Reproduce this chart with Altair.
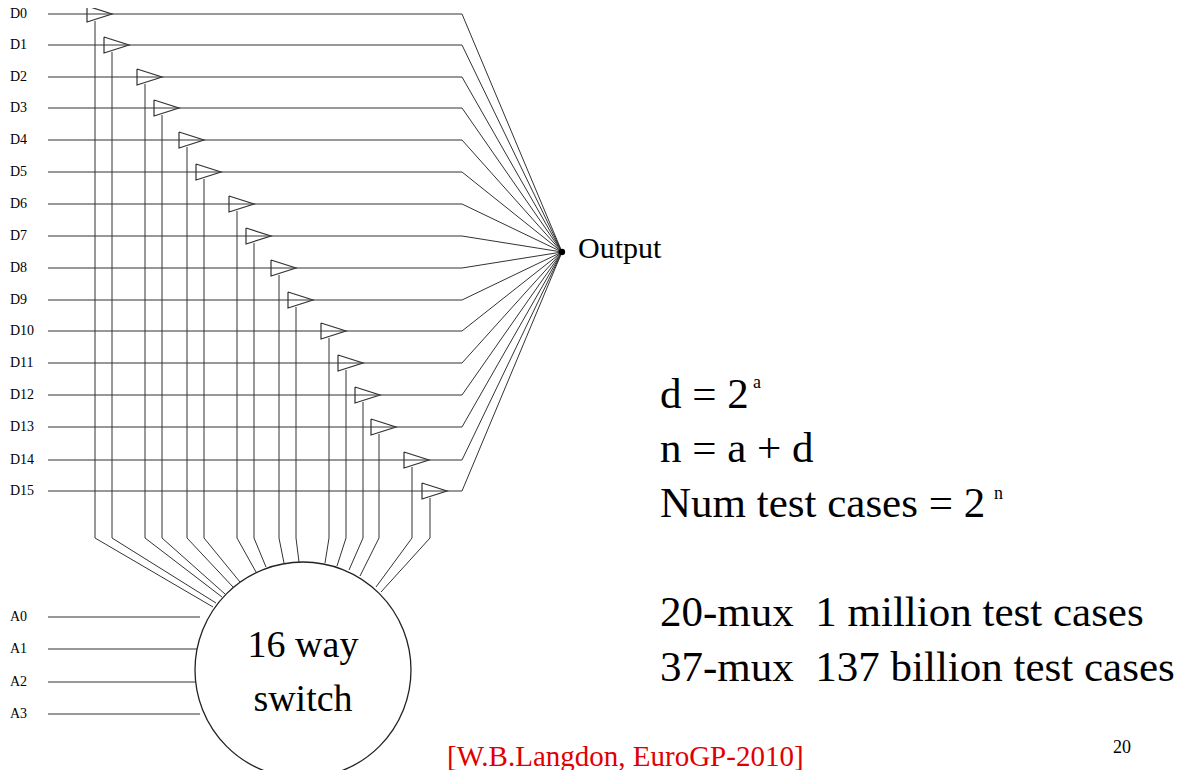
import altair as alt
import pandas as pd

# diagram layout, in picture pixels
d_labels = ["D%d" % i for i in range(16)]
d_y = [14, 45, 77, 108, 140, 172, 204, 236, 268, 300, 331, 363, 395, 427, 460, 491]
v_x = [95, 112, 145, 162, 187, 204, 237, 254, 279, 296, 329, 346, 363, 379, 412, 430]
circ_x = [213, 216, 222, 225, 233, 240, 256, 266, 284, 299, 325, 337, 349, 360, 376, 381]
circ_y = [607, 603, 597, 594, 587, 582, 572, 567, 563, 562, 563, 566, 570, 576, 587, 592]
a_labels = ["A0", "A1", "A2", "A3"]
a_y = [617, 649, 682, 714]
out_x, out_y = 562, 252

rows = []
def seg(name, pts):
    for k, (x, y) in enumerate(pts):
        rows.append({"x": x, "y": y, "g": name, "o": k})

for i in range(16):
    seg("h%d" % i, [(48, d_y[i]), (462, d_y[i]), (out_x, out_y)])
    seg("v%d" % i, [(v_x[i], d_y[i] + 7), (v_x[i], 538), (circ_x[i], circ_y[i])])
for i in range(4):
    seg("a%d" % i, [(48, a_y[i]), (200, a_y[i])])
lines = pd.DataFrame(rows)

tri_rows = []
for i in range(16):
    l = v_x[i] - 8
    for k, (x, y) in enumerate([(l, d_y[i] - 8), (l + 25, d_y[i]), (l, d_y[i] + 8), (l, d_y[i] - 8)]):
        tri_rows.append({"x": x, "y": y, "g": "t%d" % i, "o": k})
tris = pd.DataFrame(tri_rows)

X = alt.X("x:Q", scale=alt.Scale(domain=[8, 1193], nice=False, zero=False), axis=None)
Y = alt.Y("y:Q", scale=alt.Scale(domain=[8, 770], nice=False, zero=False, reverse=True), axis=None)

base_lines = alt.Chart(lines).mark_line(color="#333", strokeWidth=1).encode(
    x=X, y=Y, detail="g:N", order="o:Q")
tri_layer = alt.Chart(tris).mark_line(color="#333", strokeWidth=1.2).encode(
    x=X, y=Y, detail="g:N", order="o:Q")

circle = alt.Chart(pd.DataFrame({"x": [303], "y": [670]})).mark_point(
    shape="circle", size=216 * 216, filled=True, fill="white", stroke="#222",
    strokeWidth=1.3, opacity=1).encode(x=X, y=Y)
dot = alt.Chart(pd.DataFrame({"x": [out_x], "y": [out_y]})).mark_point(
    shape="circle", size=40, filled=True, color="black", opacity=1).encode(x=X, y=Y)

def text(df, size, align="left", color="black"):
    return alt.Chart(df).mark_text(font="Liberation Serif", fontSize=size, align=align,
                                   baseline="middle", color=color).encode(x=X, y=Y, text="t:N")

nb = "\u00a0"
dlab = text(pd.DataFrame({"x": 10, "y": d_y, "t": d_labels}), 14)
alab = text(pd.DataFrame({"x": 10, "y": a_y, "t": a_labels}), 14)
inside = text(pd.DataFrame({"x": [303, 303], "y": [646, 700], "t": ["16 way", "switch"]}), 38, "center")
outlab = text(pd.DataFrame({"x": [578], "y": [249], "t": ["Output"]}), 30)
formulas = text(pd.DataFrame({
    "x": [660, 660, 660, 660, 660],
    "y": [395, 449, 504, 613, 668],
    "t": ["d = 2", "n = a + d", "Num test cases = 2",
          "20-mux" + nb + nb + "1 million test cases",
          "37-mux" + nb + nb + "137 billion test cases"]}), 43)
sups = text(pd.DataFrame({"x": [753, 994], "y": [383, 494], "t": ["a", "n"]}), 18)
cite = text(pd.DataFrame({"x": [447], "y": [757], "t": ["[W.B.Langdon, EuroGP-2010]"]}), 29, color="#e00000")
page = text(pd.DataFrame({"x": [1113], "y": [748], "t": ["20"]}), 18)

chart = alt.layer(base_lines, tri_layer, circle, dot, dlab, alab, inside,
                  outlab, formulas, sups, cite, page).properties(
    width=1185, height=762, autosize=alt.AutoSizeParams(type="none"), padding=0
).configure_view(stroke=None)

chart.save("out.html", embed_options={"renderer": "svg", "actions": False})
